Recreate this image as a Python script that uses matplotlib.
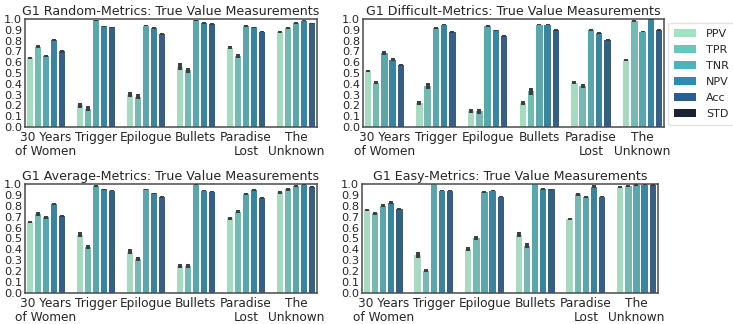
import colorsys
import numpy as np
import matplotlib
matplotlib.use("Agg")
import matplotlib.pyplot as plt
import matplotlib.colors as mcolors
from matplotlib.patches import Patch

books = ["30 Years\nof Women", "Trigger", "Epilogue", "Bullets", "Paradise\nLost", "The\nUnknown"]
metrics = ["PPV", "TPR", "TNR", "NPV", "Acc"]
legend_labels = metrics + ["STD"]
palette = ["#a0e2c2", "#68c6bc", "#4bb3bb", "#2a8cae", "#2a5e91", "#1b2333"]

# rows = metrics (PPV, TPR, TNR, NPV, Acc), columns = books
random_vals = [
    [0.64, 0.20, 0.30, 0.56, 0.735, 0.88],
    [0.745, 0.17, 0.28, 0.525, 0.655, 0.915],
    [0.66, 0.99, 0.94, 0.99, 0.935, 0.965],
    [0.81, 0.935, 0.915, 0.965, 0.925, 0.985],
    [0.70, 0.925, 0.865, 0.955, 0.885, 0.96],
]
random_err = [
    [0.010, 0.025, 0.025, 0.030, 0.015, 0.010],
    [0.015, 0.025, 0.025, 0.025, 0.020, 0.010],
    [0.012, 0.005, 0.008, 0.005, 0.008, 0.008],
    [0.010, 0.005, 0.008, 0.006, 0.006, 0.005],
    [0.010, 0.005, 0.008, 0.006, 0.006, 0.008],
]

difficult_vals = [
    [0.52, 0.22, 0.15, 0.22, 0.41, 0.62],
    [0.41, 0.38, 0.145, 0.33, 0.38, 0.98],
    [0.685, 0.915, 0.935, 0.95, 0.90, 0.885],
    [0.625, 0.95, 0.895, 0.95, 0.87, 1.0],
    [0.575, 0.88, 0.845, 0.90, 0.805, 0.90],
]
difficult_err = [
    [0.012, 0.020, 0.020, 0.020, 0.015, 0.010],
    [0.012, 0.025, 0.020, 0.030, 0.020, 0.008],
    [0.015, 0.008, 0.008, 0.006, 0.008, 0.008],
    [0.010, 0.008, 0.008, 0.008, 0.008, 0.004],
    [0.010, 0.008, 0.008, 0.008, 0.008, 0.008],
]

average_vals = [
    [0.65, 0.535, 0.38, 0.25, 0.685, 0.925],
    [0.725, 0.42, 0.315, 0.25, 0.745, 0.95],
    [0.695, 0.98, 0.95, 0.995, 0.905, 0.98],
    [0.815, 0.95, 0.915, 0.94, 0.945, 0.995],
    [0.71, 0.94, 0.88, 0.93, 0.875, 0.975],
]
average_err = [
    [0.010, 0.025, 0.020, 0.020, 0.012, 0.012],
    [0.015, 0.020, 0.018, 0.020, 0.015, 0.012],
    [0.012, 0.008, 0.008, 0.005, 0.010, 0.008],
    [0.010, 0.006, 0.006, 0.006, 0.008, 0.004],
    [0.010, 0.006, 0.006, 0.006, 0.008, 0.008],
]

easy_vals = [
    [0.76, 0.35, 0.40, 0.535, 0.68, 0.97],
    [0.73, 0.205, 0.505, 0.435, 0.905, 0.98],
    [0.80, 1.0, 0.93, 1.0, 0.88, 0.99],
    [0.83, 0.94, 0.94, 0.955, 0.975, 0.995],
    [0.77, 0.94, 0.885, 0.95, 0.885, 0.99],
]
easy_err = [
    [0.012, 0.025, 0.018, 0.020, 0.012, 0.010],
    [0.012, 0.015, 0.020, 0.020, 0.015, 0.008],
    [0.012, 0.004, 0.008, 0.004, 0.008, 0.006],
    [0.010, 0.006, 0.006, 0.006, 0.012, 0.004],
    [0.010, 0.006, 0.006, 0.006, 0.008, 0.006],
]

panels = [
    ("G1 Random-Metrics: True Value Measurements", random_vals, random_err),
    ("G1 Difficult-Metrics: True Value Measurements", difficult_vals, difficult_err),
    ("G1 Average-Metrics: True Value Measurements", average_vals, average_err),
    ("G1 Easy-Metrics: True Value Measurements", easy_vals, easy_err),
]


def desaturate(color, prop=0.75):
    r, g, b = mcolors.to_rgb(color)
    h, l, s = colorsys.rgb_to_hls(r, g, b)
    return colorsys.hls_to_rgb(h, l, s * prop)


bar_colors = [desaturate(c) for c in palette[:5]]
text_col = "#262626"
plt.rcParams["text.color"] = text_col
plt.rcParams["xtick.color"] = text_col
plt.rcParams["ytick.color"] = text_col

fig = plt.figure(figsize=(7.33, 3.24), dpi=100)
# left, bottom, width, height in figure fraction
positions = [
    [0.034, 0.608, 0.398, 0.333],
    [0.495, 0.608, 0.411, 0.333],
    [0.034, 0.096, 0.398, 0.336],
    [0.494, 0.096, 0.403, 0.336],
]

x = np.arange(len(books))
slot = 0.16
yticks = np.round(np.arange(0, 1.01, 0.1), 1)
for (title, vals, errs), pos in zip(panels, positions):
    ax = fig.add_axes(pos)
    for i in range(len(metrics)):
        xi = x - 0.4 + slot * (i + 0.5)
        ax.bar(xi, vals[i], width=slot * 0.78, color=bar_colors[i], zorder=2)
        ax.errorbar(xi, vals[i], yerr=errs[i], fmt="none", ecolor="#3d3d3d",
                    elinewidth=2.8, capsize=0, zorder=3)
    ax.set_xlim(-0.415, 5.415)
    ax.set_ylim(0, 1.0)
    ax.set_yticks(yticks)
    ax.set_yticklabels([f"{v:.1f}" for v in yticks], fontsize=8.2)
    ax.set_xticks(x)
    ax.set_xticklabels(books, fontsize=8.7, linespacing=1.05)
    ax.tick_params(axis="both", length=0)
    ax.tick_params(axis="y", pad=2)
    ax.tick_params(axis="x", pad=3)
    ax.set_title(title, fontsize=9.1, pad=3)
    for sp in ax.spines.values():
        sp.set_color("#4a4a4a")
        sp.set_linewidth(1.1)

handles = [Patch(facecolor=c, edgecolor="none") for c in palette]
fig.legend(handles, legend_labels, loc="upper left", bbox_to_anchor=(0.912, 0.929),
           borderaxespad=0, fontsize=8, frameon=True, edgecolor="#dddddd",
           borderpad=0.5, labelspacing=0.55, handletextpad=0.9)

fig.savefig("out.png", dpi=100)
